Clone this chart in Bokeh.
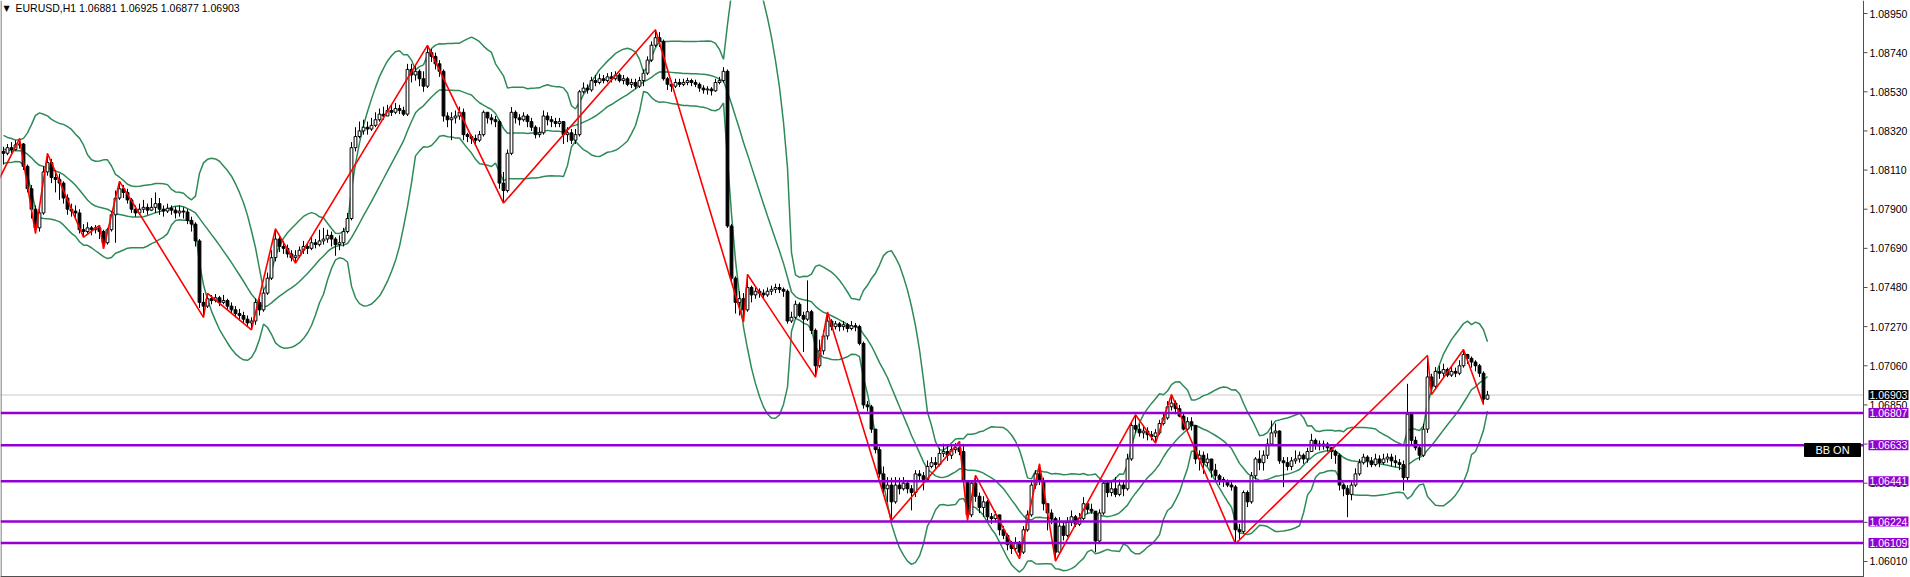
import numpy as np
from bokeh.plotting import figure
from bokeh.models import Range1d, Label, ColumnDataSource
from bokeh.embed import file_html
from bokeh.resources import INLINE

SYMBOL = "EURUSD,H1"
LAST_OHLC = "1.06881 1.06925 1.06877 1.06903"

# prices stored in points: price = 1 + pts / 100000
# closes of the bars just before the first visible bar (they feed the bands)
pre_close = [8290, 8260, 8280, 8240, 8210, 8250, 8230, 8190, 8170, 8200,
             8230, 8260, 8210, 8180, 8150, 8210]

close = [
    8200, 8230, 8220, 8245, 8250, 8130, 8010, 7900, 7800, 7880,
    8100, 8150, 8070, 8060, 8040, 7960, 7900, 7890, 7880, 7790,
    7780, 7800, 7790, 7800, 7780, 7720, 7790, 7870, 7960, 8010,
    7990, 7950, 7900, 7880, 7900, 7910, 7895, 7910, 7930, 7900,
    7890, 7905, 7895, 7880, 7890, 7885, 7840, 7820, 7730, 7400,
    7380, 7420, 7410, 7425, 7400, 7410, 7380, 7360, 7340, 7330,
    7310, 7290, 7300, 7400, 7360, 7450, 7530, 7640, 7740, 7700,
    7690, 7660, 7640, 7650, 7680, 7700, 7690, 7720, 7710, 7730,
    7740, 7760, 7740, 7710, 7720, 7780, 7850, 8230, 8290, 8320,
    8340, 8330, 8350, 8380, 8410, 8400, 8430, 8420, 8440, 8430,
    8410, 8650, 8620, 8640, 8600, 8560, 8740, 8720, 8680, 8640,
    8400, 8380, 8390, 8400, 8420, 8300, 8290, 8280, 8270, 8300,
    8420, 8390, 8380, 8370, 8040, 8000, 8200, 8420, 8390, 8380,
    8400, 8370, 8340, 8300, 8310, 8400, 8380, 8370, 8360, 8370,
    8300, 8310, 8270, 8300, 8530, 8550, 8540, 8590, 8580, 8600,
    8590, 8610, 8600, 8620, 8590, 8600, 8570, 8580, 8560, 8590,
    8630, 8700, 8780, 8820, 8800, 8600, 8570, 8560, 8580, 8570,
    8580, 8590, 8580, 8570, 8550, 8540, 8545, 8535, 8580, 8590,
    8640, 7810, 7530, 7400, 7420, 7360, 7480, 7440, 7460, 7450,
    7440, 7460, 7470, 7480, 7470, 7460, 7300, 7320, 7390, 7330,
    7310, 7350, 7250, 7060, 7140, 7220, 7300, 7270, 7285, 7270,
    7280, 7260, 7275, 7270, 7180, 6850, 6840, 6720, 6610, 6480,
    6400, 6420, 6330, 6420, 6400, 6430, 6400, 6380, 6480, 6470,
    6450, 6520, 6540, 6530, 6590, 6600, 6580, 6610, 6620, 6600,
    6440, 6260, 6430, 6360, 6300, 6330, 6250, 6240, 6260, 6180,
    6150, 6100, 6080, 6110, 6060, 6180, 6260, 6420, 6480, 6440,
    6320, 6270, 6240, 6060, 6200, 6150, 6220, 6250, 6210, 6240,
    6320, 6290, 6280, 6120, 6270, 6430, 6380, 6400, 6370, 6420,
    6400, 6560, 6740, 6720, 6700, 6710, 6690, 6680, 6700, 6750,
    6780, 6840, 6860, 6830, 6790, 6720, 6760, 6740, 6560, 6580,
    6540, 6560, 6500, 6470, 6450, 6440, 6420, 6410, 6180, 6170,
    6380, 6330, 6470, 6560, 6540, 6580, 6640, 6700, 6710, 6550,
    6540, 6520, 6550, 6560, 6580, 6560, 6600, 6660, 6640, 6630,
    6640, 6620, 6600, 6580, 6420, 6400, 6370, 6420, 6480, 6540,
    6570, 6550, 6530, 6560, 6540, 6560, 6570, 6550, 6540, 6530,
    6460, 6800, 6660, 6620, 6580, 6720, 7000, 6950, 7030, 7020,
    7040, 7010, 7030, 7020, 7060, 7120, 7100, 7080, 7060, 7020,
    6881, 6903]

high = [
    8235, 8250, 8260, 8270, 8279, 8255, 8140, 8030, 7920, 7920,
    8130, 8199, 8170, 8110, 8090, 8050, 7980, 7930, 7920, 7900,
    7820, 7830, 7810, 7815, 7813, 7790, 7800, 7890, 8000, 8049,
    8030, 8010, 7960, 7920, 7930, 7950, 7930, 7960, 7990, 7960,
    7920, 7930, 7920, 7915, 7920, 7910, 7900, 7860, 7830, 7740,
    7450, 7448, 7440, 7445, 7435, 7440, 7420, 7400, 7380, 7365,
    7350, 7330, 7320, 7420, 7420, 7470, 7560, 7680, 7795, 7760,
    7730, 7710, 7680, 7680, 7700, 7730, 7720, 7750, 7740, 7790,
    7800, 7790, 7780, 7750, 7760, 7800, 7880, 8260, 8340, 8370,
    8380, 8370, 8390, 8420, 8440, 8450, 8460, 8460, 8470, 8460,
    8450, 8680, 8680, 8670, 8650, 8640, 8779, 8760, 8740, 8700,
    8650, 8420, 8420, 8430, 8450, 8440, 8310, 8300, 8300, 8320,
    8430, 8420, 8410, 8400, 8380, 8100, 8220, 8448, 8430, 8410,
    8420, 8410, 8390, 8350, 8340, 8430, 8420, 8400, 8390, 8390,
    8370, 8340, 8330, 8330, 8540, 8580, 8570, 8610, 8620, 8627,
    8620, 8630, 8636, 8640, 8630, 8620, 8610, 8600, 8600, 8610,
    8650, 8720, 8800, 8863, 8850, 8810, 8610, 8590, 8600, 8600,
    8600, 8605, 8600, 8595, 8580, 8565, 8560, 8555, 8600, 8610,
    8662, 8650, 7820, 7540, 7460, 7450, 7550, 7490, 7480, 7475,
    7470, 7480, 7490, 7500, 7500, 7480, 7470, 7350, 7410, 7400,
    7350, 7518, 7360, 7260, 7200, 7250, 7348, 7310, 7300, 7295,
    7300, 7290, 7300, 7290, 7280, 7190, 6870, 6850, 6720, 6625,
    6520, 6463, 6460, 6463, 6460, 6463, 6445, 6420, 6500, 6500,
    6490, 6552, 6570, 6570, 6620, 6642, 6630, 6640, 6645, 6654,
    6641, 6445, 6445, 6472, 6380, 6360, 6340, 6270, 6280, 6260,
    6200, 6160, 6120, 6140, 6120, 6200, 6284, 6440, 6500, 6534,
    6460, 6320, 6290, 6250, 6248, 6220, 6248, 6284, 6260, 6270,
    6355, 6330, 6320, 6280, 6290, 6445, 6440, 6445, 6463, 6450,
    6440, 6588, 6760, 6797, 6749, 6740, 6730, 6710, 6720, 6770,
    6810, 6870, 6906, 6874, 6850, 6802, 6784, 6784, 6740, 6606,
    6600, 6590, 6560, 6534, 6480, 6463, 6450, 6440, 6420, 6212,
    6391, 6391, 6490, 6570, 6606, 6606, 6670, 6766, 6750, 6713,
    6570, 6570, 6570, 6606, 6600, 6590, 6620, 6695, 6670, 6659,
    6659, 6650, 6624, 6610, 6590, 6427, 6420, 6440, 6510, 6560,
    6588, 6580, 6570, 6588, 6580, 6588, 6590, 6588, 6580, 6560,
    6552, 6963, 6810, 6680, 6640, 6749, 7115, 7017, 7053, 7060,
    7071, 7050, 7060, 7050, 7090, 7147, 7124, 7110, 7090, 7070,
    7030, 6925]

low = [
    8140, 8190, 8200, 8215, 8225, 8110, 7990, 7850, 7770, 7780,
    7870, 8080, 8040, 7990, 7950, 7930, 7870, 7860, 7850, 7770,
    7750, 7770, 7760, 7770, 7740, 7688, 7710, 7780, 7720, 7950,
    7960, 7930, 7880, 7860, 7870, 7880, 7870, 7890, 7880, 7870,
    7860, 7880, 7870, 7850, 7860, 7850, 7820, 7780, 7700, 7370,
    7320, 7370, 7390, 7400, 7380, 7390, 7360, 7340, 7320, 7300,
    7290, 7270, 7253, 7280, 7330, 7350, 7440, 7520, 7620, 7670,
    7660, 7640, 7620, 7611, 7640, 7660, 7660, 7680, 7690, 7700,
    7710, 7720, 7700, 7650, 7680, 7700, 7770, 7840, 8210, 8280,
    8300, 8300, 8320, 8340, 8370, 8380, 8400, 8400, 8410, 8410,
    8400, 8400, 8580, 8590, 8560, 8530, 8550, 8690, 8650, 8610,
    8370, 8340, 8270, 8360, 8380, 8270, 8260, 8250, 8250, 8260,
    8290, 8360, 8355, 8340, 8010, 7933, 7990, 8190, 8360, 8350,
    8370, 8340, 8320, 8280, 8285, 8300, 8350, 8340, 8340, 8340,
    8250, 8260, 8250, 8250, 8290, 8520, 8520, 8530, 8560, 8570,
    8575, 8580, 8580, 8590, 8580, 8570, 8560, 8550, 8545, 8550,
    8560, 8620, 8690, 8770, 8770, 8590, 8540, 8530, 8550, 8555,
    8560, 8565, 8560, 8555, 8530, 8520, 8515, 8510, 8530, 8570,
    8580, 7800, 7515, 7340, 7330, 7295, 7350, 7400, 7420, 7425,
    7420, 7430, 7440, 7450, 7450, 7430, 7286, 7290, 7310, 7320,
    7134, 7300, 7230, 6999, 7050, 7120, 7200, 7250, 7255, 7245,
    7250, 7240, 7250, 7245, 7170, 6830, 6815, 6700, 6590, 6460,
    6370, 6330, 6231, 6320, 6370, 6390, 6375, 6284, 6356, 6440,
    6392, 6440, 6510, 6500, 6520, 6570, 6550, 6560, 6590, 6580,
    6420, 6230, 6248, 6330, 6270, 6250, 6230, 6212, 6220, 6150,
    6130, 6070, 6050, 6060, 6025, 6050, 6170, 6250, 6400, 6420,
    6284, 6177, 6210, 6012, 6069, 6123, 6140, 6200, 6195, 6200,
    6230, 6266, 6266, 6060, 6105, 6260, 6355, 6360, 6355, 6360,
    6360, 6390, 6550, 6700, 6680, 6670, 6660, 6660, 6645, 6690,
    6740, 6770, 6820, 6800, 6784, 6713, 6713, 6713, 6534, 6498,
    6480, 6520, 6460, 6445, 6420, 6410, 6409, 6390, 6105, 6130,
    6160, 6302, 6320, 6450, 6500, 6498, 6560, 6640, 6677, 6534,
    6409, 6498, 6500, 6534, 6540, 6534, 6540, 6600, 6610, 6606,
    6610, 6600, 6560, 6534, 6391, 6360, 6248, 6338, 6410, 6470,
    6530, 6516, 6516, 6520, 6516, 6530, 6540, 6520, 6516, 6500,
    6391, 6445, 6640, 6606, 6552, 6570, 6700, 6906, 6940, 6990,
    7000, 6999, 7000, 6999, 7010, 7050, 7070, 7050, 7030, 7000,
    6852, 6877]

zigzag_bar = [-3, 4, 8, 11, 20, 24, 25, 29, 50, 51, 62, 68, 73, 106, 125, 163,
              185, 186, 203, 206, 222, 239, 241, 243, 254, 259, 263, 283, 288,
              292, 308, 356, 357, 365, 370]
zigzag_pts = [7980, 8279, 7770, 8199, 7750, 7813, 7688, 8049, 7320, 7448, 7253,
              7795, 7611, 8779, 7933, 8863, 7295, 7550, 6999, 7348, 6231, 6654,
              6230, 6472, 6025, 6534, 6012, 6797, 6645, 6906, 6105, 7115, 6906,
              7147, 6852]

level_prices = [1.06807, 1.06633, 1.06441, 1.06224, 1.06109]
tick_prices = [1.08950, 1.08740, 1.08530, 1.08320, 1.08110, 1.07900, 1.07690,
               1.07480, 1.07270, 1.07060, 1.06850, 1.06640, 1.06430, 1.06220,
               1.06010]
bid_price = 1.06903
badge_text = "BB ON"
bb_period = 17
bb_dev = 2.0

# ---------------------------------------------------------------------------
def to_price(a):
    return 1.0 + np.asarray(a, dtype=float) / 100000.0

c = to_price(close)
o = to_price([pre_close[-1]] + close[:-1])
h = np.maximum(to_price(high), np.maximum(o, c))
l = np.minimum(to_price(low), np.minimum(o, c))
n = len(c)
xs = np.arange(n)

allc = np.concatenate([to_price(pre_close), c])
off = len(pre_close)
mid, up, dn = [], [], []
for k in range(n):
    w = allc[k + off - bb_period + 1:k + off + 1]
    m = w.mean()
    s = w.std()
    mid.append(m)
    up.append(m + bb_dev * s)
    dn.append(m - bb_dev * s)

# page geometry: bar i is drawn at page x = 3 + 4 i
def px_to_x(px):
    return (px - 3) / 4.0

SCALE = 18639.0
def py_to_price(py):
    return 1.0895 - (py - 13) / SCALE

W, H = 1910, 577
Y_TOP = py_to_price(0)
Y_BOT = py_to_price(H)
X_LEFT = px_to_x(0)
X_AXIS = px_to_x(1863)

p = figure(width=W, height=H,
           x_range=Range1d(X_LEFT, px_to_x(W)),
           y_range=Range1d(Y_BOT, Y_TOP),
           output_backend="svg", toolbar_location=None,
           x_axis_location=None, y_axis_location=None,
           min_border_left=0, min_border_top=0, min_border_bottom=0,
           min_border_right=0)
p.grid.visible = False
p.outline_line_color = None
p.background_fill_color = "white"
p.border_fill_color = "white"

# current price line
p.segment(x0=[X_LEFT], y0=[bid_price], x1=[X_AXIS], y1=[bid_price],
          line_color="#C8C8C8", line_width=1)

# Bollinger bands
band_col = "#2E8B57"
for arr in (up, mid, dn):
    p.line(xs, arr, line_color=band_col, line_width=1.5)

# candles
bull = c >= o
src = ColumnDataSource(dict(
    x=xs, top=np.maximum(o, c), bottom=np.minimum(o, c), hi=h, lo=l,
    fill=np.where(bull, "white", "black")))
p.segment(x0="x", y0="lo", x1="x", y1="hi", source=src, line_color="black",
          line_width=1)
p.vbar(x="x", top="top", bottom="bottom", width=0.7, source=src,
       fill_color="fill", line_color="black", line_width=1)

# zigzag
p.line(zigzag_bar, list(to_price(zigzag_pts)), line_color="#FF0000",
       line_width=1.6)

# support / resistance levels (up to the price scale)
nl = len(level_prices)
p.segment(x0=[X_LEFT] * nl, y0=level_prices, x1=[X_AXIS] * nl,
          y1=level_prices, line_color="#9400D3", line_width=2.5)

# BB ON badge box
p.quad(left=[px_to_x(1804)], right=[px_to_x(1860)],
       top=[py_to_price(443)], bottom=[py_to_price(456)],
       fill_color="black", line_color="black")

# chart borders, price-scale axis line and tick marks
p.segment(x0=[X_AXIS, px_to_x(0.5), X_LEFT], y0=[Y_BOT, Y_BOT, py_to_price(576)],
          x1=[X_AXIS, px_to_x(0.5), X_AXIS], y1=[Y_TOP, Y_TOP, py_to_price(576)],
          line_color="#505050", line_width=1)
nt = len(tick_prices)
p.segment(x0=[X_AXIS] * nt, y0=tick_prices, x1=[px_to_x(1867)] * nt,
          y1=tick_prices, line_color="#505050", line_width=1)

FONT = "Liberation Sans"
for t in tick_prices:
    p.add_layout(Label(x=px_to_x(1869), y=t, text="%.5f" % t,
                       text_font=FONT, text_font_size="10.5px",
                       text_color="black", text_align="left",
                       text_baseline="middle"))

# bid label
p.add_layout(Label(x=px_to_x(1868), y=bid_price, text="%.5f" % bid_price,
                   text_font=FONT, text_font_size="10.5px", text_color="white",
                   text_align="left", text_baseline="middle",
                   background_fill_color="black", padding=1))

for lv in level_prices:
    p.add_layout(Label(x=px_to_x(1868), y=lv, text="%.5f" % lv,
                       text_font=FONT, text_font_size="10.5px",
                       text_color="white", text_align="left",
                       text_baseline="middle",
                       background_fill_color="#9400D3", padding=1))

p.add_layout(Label(x=px_to_x(1832), y=py_to_price(449.5), text=badge_text,
                   text_font=FONT, text_font_size="11px", text_color="white",
                   text_align="center", text_baseline="middle"))

# header
p.add_layout(Label(x=px_to_x(3), y=py_to_price(3), text="\u25BC",
                   text_font="DejaVu Sans", text_font_size="8px",
                   text_color="black", text_align="left",
                   text_baseline="top"))
p.add_layout(Label(x=px_to_x(15), y=py_to_price(1),
                   text=SYMBOL + "  " + LAST_OHLC,
                   text_font=FONT, text_font_size="10.5px",
                   text_color="black", text_align="left",
                   text_baseline="top"))

open("out.html", "w").write(file_html(p, INLINE))
